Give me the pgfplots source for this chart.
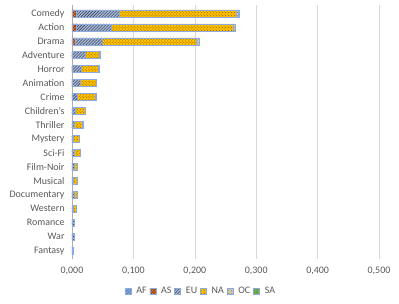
\documentclass[border=0pt]{standalone}
\usepackage{pgfplots}
\pgfplotsset{compat=1.18}
\usepackage{fontspec}
\setmainfont{Carlito}
\usetikzlibrary{patterns}
\definecolor{tickgray}{HTML}{595959}
\definecolor{gridgray}{HTML}{D9D9D9}
\definecolor{outl}{HTML}{8EA9DB}
\definecolor{afc}{HTML}{8FAADC}
\definecolor{afp}{HTML}{2F5597}
\definecolor{asc}{HTML}{ED7D31}
\definecolor{asp}{HTML}{843C0C}
\definecolor{euc}{HTML}{A9B8D4}
\definecolor{eup}{HTML}{1F2A44}
\definecolor{nac}{HTML}{FFC000}
\definecolor{nap}{HTML}{7F6000}
\definecolor{occ}{HTML}{C9C9C9}
\definecolor{ocp}{HTML}{BF9000}
\definecolor{sac}{HTML}{70AD47}
\definecolor{sap}{HTML}{375623}
\begin{document}
\begin{tikzpicture}
\begin{axis}[
  scale only axis,
  width=307bp, height=254bp,
  xbar stacked,
  bar width=7bp,
  xmin=0, xmax=0.5,
  ymin=-0.6, ymax=17.6,
  y dir=reverse,
  ytick={0,...,17},
  yticklabels={Comedy,Action,Drama,Adventure,Horror,Animation,Crime,Children's,Thriller,Mystery,Sci-Fi,Film-Noir,Musical,Documentary,Western,Romance,War,Fantasy},
  xtick={0,0.1,0.2,0.3,0.4,0.5},
  xticklabels={{0,000},{0,100},{0,200},{0,300},{0,400},{0,500}},
  xmajorgrids,
  grid style={gridgray, line width=0.6pt},
  axis line style={draw=none},
  extra x ticks={0},
  extra x tick labels={},
  extra x tick style={grid style={draw=gridgray!80!black, line width=0.6pt}},
  major tick length=0pt,
  tick label style={font=\fontsize{10}{11}\selectfont, text=tickgray},
  yticklabel style={xshift=-4bp},
  xticklabel style={yshift=-5bp},
  legend style={at={(0.42,-0.095)}, anchor=north, draw=none, font=\fontsize{10}{11}\selectfont, text=tickgray, legend columns=6, column sep=3bp, /tikz/every even column/.append style={column sep=1bp}},
  legend image code/.code={\draw[#1] (0bp,-3bp) rectangle (6bp,3bp);},
]
\addplot[fill=afc, draw=outl, line width=0.5pt, postaction={pattern=north east lines, pattern color=afp}] coordinates {
(0.001,0) (0.001,1) (0.001,2) (0,3) (0,4) (0,5) (0,6) (0,7) (0,8) (0,9) (0,10) (0,11) (0,12) (0,13) (0,14) (0,15) (0,16) (0,17)};
\addlegendentry{AF}
\addplot[fill=asc, draw=outl, line width=0.5pt, postaction={pattern=crosshatch, pattern color=asp}] coordinates {
(0.006,0) (0.006,1) (0.004,2) (0.001,3) (0.001,4) (0.001,5) (0,6) (0,7) (0,8) (0,9) (0,10) (0,11) (0,12) (0,13) (0,14) (0,15) (0,16) (0,17)};
\addlegendentry{AS}
\addplot[fill=euc, draw=outl, line width=0.5pt, postaction={pattern=north east lines, pattern color=eup}] coordinates {
(0.070,0) (0.057,1) (0.044,2) (0.020,3) (0.014,4) (0.012,5) (0.009,6) (0.006,7) (0.003,8) (0.002,9) (0.003,10) (0.003,11) (0.002,12) (0.003,13) (0.002,14) (0.003,15) (0.003,16) (0.002,17)};
\addlegendentry{EU}
\addplot[fill=nac, draw=outl, line width=0.5pt, postaction={pattern=crosshatch dots, pattern color=nap}] coordinates {
(0.191,0) (0.199,1) (0.153,2) (0.024,3) (0.028,4) (0.026,5) (0.029,6) (0.015,7) (0.014,8) (0.009,9) (0.010,10) (0.006,11) (0.006,12) (0.005,13) (0.005,14) (0.001,15) (0,16) (0,17)};
\addlegendentry{NA}
\addplot[fill=occ, draw=outl, line width=0.5pt, postaction={pattern=crosshatch dots, pattern color=ocp}] coordinates {
(0.003,0) (0.003,1) (0.005,2) (0.001,3) (0.001,4) (0.001,5) (0.001,6) (0.001,7) (0.001,8) (0,9) (0,10) (0,11) (0,12) (0,13) (0,14) (0,15) (0,16) (0,17)};
\addlegendentry{OC}
\addplot[fill=sac, draw=outl, line width=0.5pt, postaction={pattern=dots, pattern color=sap}] coordinates {
(0.001,0) (0,1) (0.001,2) (0,3) (0,4) (0,5) (0,6) (0,7) (0,8) (0,9) (0,10) (0,11) (0,12) (0,13) (0,14) (0,15) (0,16) (0,17)};
\addlegendentry{SA}
\end{axis}
\path (-72bp,-45bp) rectangle (327bp,259bp);
\end{tikzpicture}
\end{document}
